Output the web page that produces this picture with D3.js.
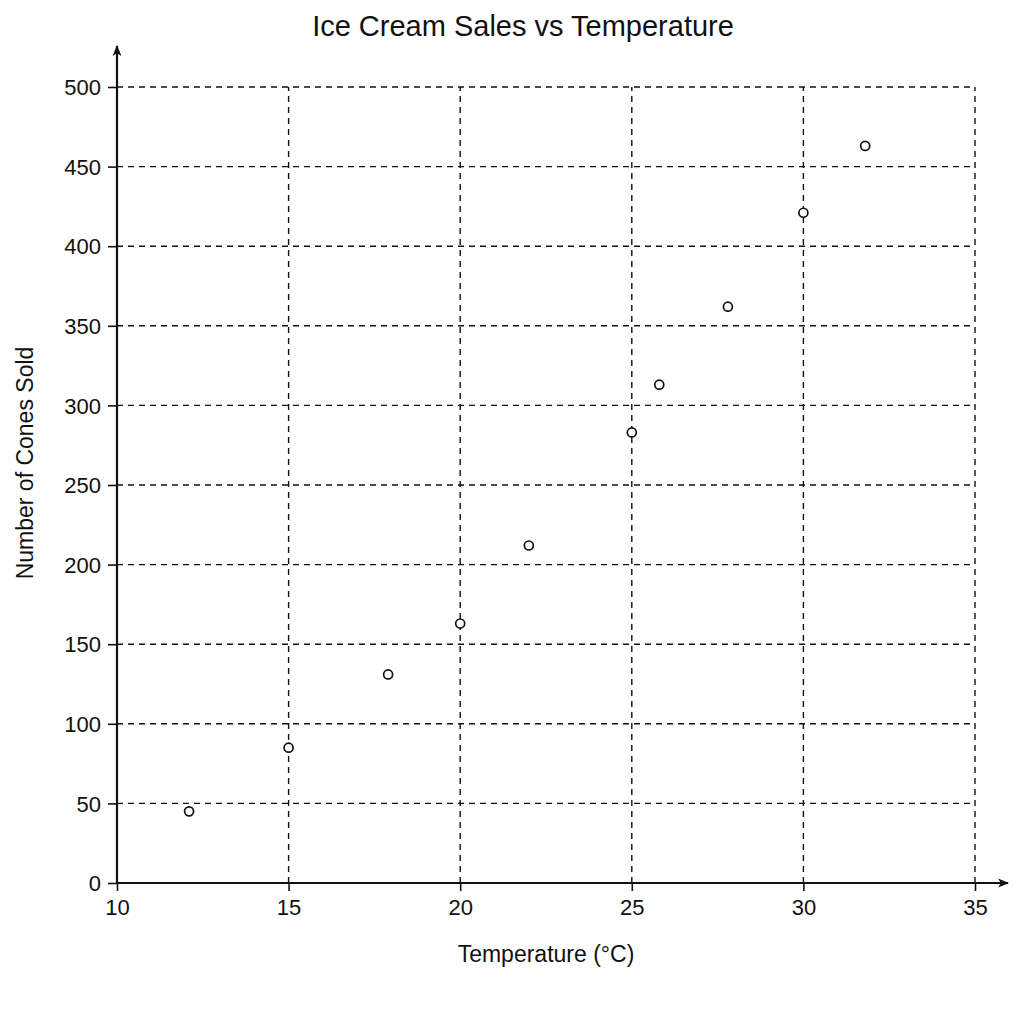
<!DOCTYPE html>
<html>
<head>
<meta charset="utf-8">
<script src="https://cdn.jsdelivr.net/npm/d3@7"></script>
<style>
  body { margin: 0; background: #fff; }
  svg text { font-family: "Liberation Sans", Arial, sans-serif; fill: #111; }
</style>
</head>
<body>
<svg id="chart" width="1024" height="1024"></svg>
<script>
// data
var temps = [12.1, 15, 17.9, 20, 22, 25, 25.8, 27.8, 30, 31.8];
var cones = [45, 85, 131, 163, 212, 283, 313, 362, 421, 463];
var xTicks = [10, 15, 20, 25, 30, 35];
var yTicks = [0, 50, 100, 150, 200, 250, 300, 350, 400, 450, 500];

var svg = d3.select("#chart");
var x = d3.scaleLinear().domain([10, 35]).range([117, 975]);
var y = d3.scaleLinear().domain([0, 500]).range([883, 87]);

// arrow head
svg.append("defs").append("marker")
    .attr("id", "arrow")
    .attr("viewBox", "0 0 10 10")
    .attr("refX", 9).attr("refY", 5)
    .attr("markerWidth", 11).attr("markerHeight", 11)
    .attr("markerUnits", "userSpaceOnUse")
    .attr("orient", "auto")
    .append("path").attr("d", "M0,1 L10,5 L0,9 L2.5,5 Z").attr("fill", "#111");

// dashed grid
var grid = svg.append("g").attr("stroke", "#111").attr("stroke-width", 1.4)
    .attr("stroke-dasharray", "6,5");
grid.selectAll(".h").data(yTicks.filter(function (d) { return d > 0; }))
    .enter().append("line")
    .attr("x1", x(10)).attr("x2", x(35))
    .attr("y1", function (d) { return y(d); })
    .attr("y2", function (d) { return y(d); });
grid.selectAll(".v").data(xTicks.filter(function (d) { return d > 10; }))
    .enter().append("line")
    .attr("y1", y(0)).attr("y2", y(500))
    .attr("x1", function (d) { return x(d); })
    .attr("x2", function (d) { return x(d); });

// axes
var xAxis = d3.axisBottom(x).tickValues(xTicks).tickSize(8).tickPadding(8);
var yAxis = d3.axisLeft(y).tickValues(yTicks).tickSize(9).tickPadding(7);

var gx = svg.append("g").attr("transform", "translate(0," + y(0) + ")").call(xAxis);
var gy = svg.append("g").attr("transform", "translate(" + x(10) + ",0)").call(yAxis);
[gx, gy].forEach(function (g) {
    g.select(".domain").remove();
    g.selectAll(".tick line").attr("stroke", "#111").attr("stroke-width", 1.6);
    g.selectAll(".tick text").attr("font-size", 22).attr("fill", "#111");
});
gy.selectAll(".tick text").attr("dy", "0.35em");

svg.append("line")
    .attr("x1", x(10) - 1).attr("x2", 1008)
    .attr("y1", y(0)).attr("y2", y(0))
    .attr("stroke", "#111").attr("stroke-width", 2.2)
    .attr("marker-end", "url(#arrow)");
svg.append("line")
    .attr("x1", x(10)).attr("x2", x(10))
    .attr("y1", y(0) + 1).attr("y2", 46)
    .attr("stroke", "#111").attr("stroke-width", 2.2)
    .attr("marker-end", "url(#arrow)");

// points
svg.append("g").selectAll("circle")
    .data(d3.zip(temps, cones))
    .enter().append("circle")
    .attr("cx", function (d) { return x(d[0]); })
    .attr("cy", function (d) { return y(d[1]); })
    .attr("r", 4.5)
    .attr("fill", "#fff").attr("stroke", "#111").attr("stroke-width", 1.7);

// labels
svg.append("text").attr("x", 523).attr("y", 36)
    .attr("text-anchor", "middle").attr("font-size", 29)
    .text("Ice Cream Sales vs Temperature");
svg.append("text").attr("x", 546).attr("y", 962)
    .attr("text-anchor", "middle").attr("font-size", 23)
    .text("Temperature (°C)");
svg.append("text")
    .attr("transform", "translate(33,463) rotate(-90)")
    .attr("text-anchor", "middle").attr("font-size", 23)
    .text("Number of Cones Sold");
</script>
</body>
</html>
